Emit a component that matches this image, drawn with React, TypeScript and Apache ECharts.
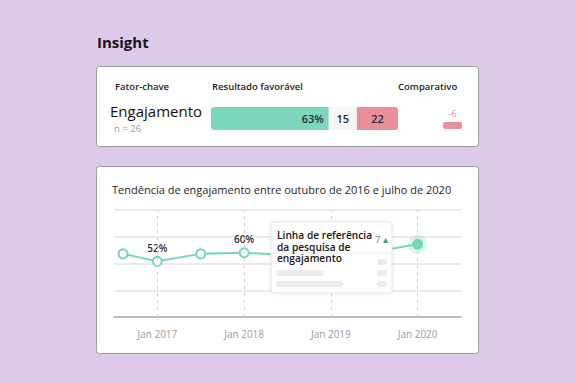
import React, { useEffect, useRef } from "react";
import * as echarts from "echarts";

// ---- data ----
const monthsSinceJan2016 = [7.25, 12, 18, 24, 30, 36, 42, 48];
const engagement = [59, 52, 59, 60, 58, 60, 61, 68];
const labeledPoints = [1, 3];
const yearTicks = [12, 24, 36, 48];
const yearLabels = ["Jan 2017", "Jan 2018", "Jan 2019", "Jan 2020"];
const favorable = [63];
const neutral = [15];
const unfavorable = [22];
const comparative = [-6];
const sampleSize = 26;
const baselineDelta = 7;

const FONT = "'Open Sans', sans-serif";
const GREEN = "#74d7bb";
const RED = "#e8909a";

export default function App() {
  const ref = useRef<HTMLDivElement>(null);
  useEffect(() => {
    if (!ref.current) return;
    const chart = echarts.init(ref.current, undefined, { renderer: "svg" });
    const lineData = monthsSinceJan2016.map((m, i) => {
      const item: any = { value: [m, engagement[i]] };
      if (labeledPoints.includes(i)) {
        item.label = { show: true, formatter: engagement[i] + "%" };
      }
      if (i === engagement.length - 1) {
        item.itemStyle = { color: GREEN, borderColor: GREEN };
      }
      return item;
    });
    const last = engagement.length - 1;
    const option: any = {
      animation: false,
      backgroundColor: "#dfc9ea",
      textStyle: { fontFamily: FONT },
      grid: [
        { left: 114, right: 114, top: 210, height: 107 },
        { left: 211, width: 187, top: 107, height: 23 },
        { left: 443, width: 19, top: 122, height: 7 },
      ],
      xAxis: [
        {
          type: "value",
          gridIndex: 0,
          min: 6,
          max: 54,
          axisLine: { show: true, lineStyle: { color: "#a9a9b2", width: 1.5 } },
          axisTick: { show: false },
          splitLine: { show: false },
          axisLabel: {
            customValues: yearTicks,
            formatter: (v: number) => yearLabels[yearTicks.indexOf(v)] ?? "",
            color: "#9b9ba3",
            fontSize: 10,
            fontFamily: FONT,
            margin: 12,
          },
        },
        { type: "value", gridIndex: 1, min: 0, max: 100, show: false },
        { type: "value", gridIndex: 2, min: -6, max: 0, show: false },
      ],
      yAxis: [
        {
          type: "value",
          gridIndex: 0,
          min: 0,
          max: 100,
          interval: 25,
          axisLabel: { show: false },
          axisLine: { show: false },
          axisTick: { show: false },
          splitLine: { lineStyle: { color: "#e4e4ea", width: 1.5 } },
        },
        { type: "category", gridIndex: 1, data: ["Engajamento"], show: false },
        { type: "category", gridIndex: 2, data: ["Engajamento"], show: false },
      ],
      series: [
        {
          type: "scatter",
          xAxisIndex: 0,
          yAxisIndex: 0,
          data: [[monthsSinceJan2016[last], engagement[last]]],
          symbolSize: 19,
          itemStyle: { color: "rgba(116,215,187,0.3)" },
          z: 1,
          silent: true,
        },
        {
          type: "line",
          xAxisIndex: 0,
          yAxisIndex: 0,
          data: lineData,
          symbol: "circle",
          symbolSize: 9,
          showAllSymbol: true,
          lineStyle: { color: GREEN, width: 2 },
          itemStyle: { color: "#ffffff", borderColor: GREEN, borderWidth: 2 },
          label: {
            position: "top",
            distance: 3,
            color: "#2b2b2b",
            fontSize: 10,
            fontWeight: 600,
            fontFamily: FONT,
          },
          markLine: {
            silent: true,
            symbol: "none",
            label: { show: false },
            lineStyle: { type: [3, 4], color: "#cfcfd6", width: 1 },
            data: yearTicks.map((t) => ({ xAxis: t })),
          },
          z: 3,
        },
        {
          type: "bar",
          stack: "fav",
          xAxisIndex: 1,
          yAxisIndex: 1,
          data: favorable,
          barWidth: 23,
          itemStyle: { color: "#7dd7bf", borderRadius: [3, 0, 0, 3] },
          label: {
            show: true,
            position: "insideRight",
            formatter: "{c}%",
            color: "#2b2b2b",
            fontSize: 11,
            fontWeight: 600,
            fontFamily: FONT,
          },
        },
        {
          type: "bar",
          stack: "fav",
          xAxisIndex: 1,
          yAxisIndex: 1,
          data: neutral,
          barWidth: 23,
          itemStyle: { color: "#f6f6f7" },
          label: {
            show: true,
            position: "inside",
            color: "#2b2b2b",
            fontSize: 11,
            fontWeight: 600,
            fontFamily: FONT,
          },
        },
        {
          type: "bar",
          stack: "fav",
          xAxisIndex: 1,
          yAxisIndex: 1,
          data: unfavorable,
          barWidth: 23,
          itemStyle: { color: RED, borderRadius: [0, 3, 3, 0] },
          label: {
            show: true,
            position: "inside",
            color: "#2b2b2b",
            fontSize: 11,
            fontWeight: 600,
            fontFamily: FONT,
          },
        },
        {
          type: "bar",
          xAxisIndex: 2,
          yAxisIndex: 2,
          data: comparative,
          barWidth: 7,
          itemStyle: { color: RED, borderRadius: 2 },
          label: {
            show: true,
            position: "top",
            distance: 4,
            color: RED,
            fontSize: 9,
            fontFamily: FONT,
          },
        },
      ],
      graphic: [
        {
          type: "text",
          left: 97,
          top: 34,
          style: { text: "Insight", font: `bold 15px ${FONT}`, fill: "#161616" },
        },
        {
          type: "rect",
          shape: { x: 96.5, y: 66.5, width: 382, height: 80, r: 3 },
          style: { fill: "#ffffff", stroke: "#9c9ca4", lineWidth: 1 },
          z: -10,
        },
        {
          type: "text",
          x: 115,
          y: 86,
          style: { text: "Fator-chave", font: `600 9.5px ${FONT}`, fill: "#1e1e1e", textVerticalAlign: "middle" },
        },
        {
          type: "text",
          x: 212,
          y: 86,
          style: { text: "Resultado favorável", font: `600 9.5px ${FONT}`, fill: "#1e1e1e", textVerticalAlign: "middle" },
        },
        {
          type: "text",
          x: 398,
          y: 86,
          style: { text: "Comparativo", font: `600 9.5px ${FONT}`, fill: "#1e1e1e", textVerticalAlign: "middle" },
        },
        {
          type: "text",
          x: 110,
          y: 111,
          style: { text: "Engajamento", font: `15px ${FONT}`, fill: "#111111", textVerticalAlign: "middle" },
        },
        {
          type: "text",
          x: 114,
          y: 128,
          style: { text: "n = " + sampleSize, font: `9.5px ${FONT}`, fill: "#9b9ba3", textVerticalAlign: "middle" },
        },
        {
          type: "rect",
          shape: { x: 96.5, y: 166.5, width: 382, height: 187, r: 3 },
          style: { fill: "#ffffff", stroke: "#9c9ca4", lineWidth: 1 },
          z: -10,
        },
        {
          type: "text",
          x: 112,
          y: 189,
          style: {
            text: "Tendência de engajamento entre outubro de 2016 e julho de 2020",
            font: `11px ${FONT}`,
            fill: "#1e1e1e",
            textVerticalAlign: "middle",
          },
        },
        {
          type: "group",
          z: 20,
          children: [
            {
              type: "rect",
              shape: { x: 271, y: 222, width: 121, height: 71, r: 3 },
              style: {
                fill: "#ffffff",
                stroke: "#e6e6ea",
                lineWidth: 1,
                shadowBlur: 4,
                shadowColor: "rgba(0,0,0,0.08)",
              },
              z: 20,
            },
            {
              type: "line",
              shape: { x1: 271, y1: 253, x2: 392, y2: 253 },
              style: { stroke: "#ededf0", lineWidth: 1 },
              z: 21,
            },
            {
              type: "text",
              x: 277,
              y: 229,
              style: {
                text: "Linha de referência\nda pesquisa de\nengajamento",
                font: `600 10.2px ${FONT}`,
                lineHeight: 11.7,
                fill: "#161616",
              },
              z: 22,
            },
            {
              type: "text",
              x: 375,
              y: 239,
              style: {
                text: baselineDelta + " ▴",
                font: `9.5px ${FONT}`,
                fill: "#3a9a7c",
                textVerticalAlign: "middle",
              },
              z: 22,
            },
            { type: "rect", shape: { x: 377, y: 259, width: 10, height: 6, r: 3 }, style: { fill: "#ececef" }, z: 21 },
            { type: "rect", shape: { x: 276, y: 270, width: 48, height: 6, r: 3 }, style: { fill: "#ececef" }, z: 21 },
            { type: "rect", shape: { x: 377, y: 270, width: 10, height: 6, r: 3 }, style: { fill: "#ececef" }, z: 21 },
            { type: "rect", shape: { x: 276, y: 281, width: 67, height: 6, r: 3 }, style: { fill: "#ececef" }, z: 21 },
            { type: "rect", shape: { x: 377, y: 281, width: 10, height: 6, r: 3 }, style: { fill: "#ececef" }, z: 21 },
          ],
        },
      ],
    };
    chart.setOption(option);
    return () => chart.dispose();
  }, []);
  return (
    <div
      ref={ref}
      style={{ position: "fixed", left: 0, top: 0, width: 575, height: 383 }}
    />
  );
}
